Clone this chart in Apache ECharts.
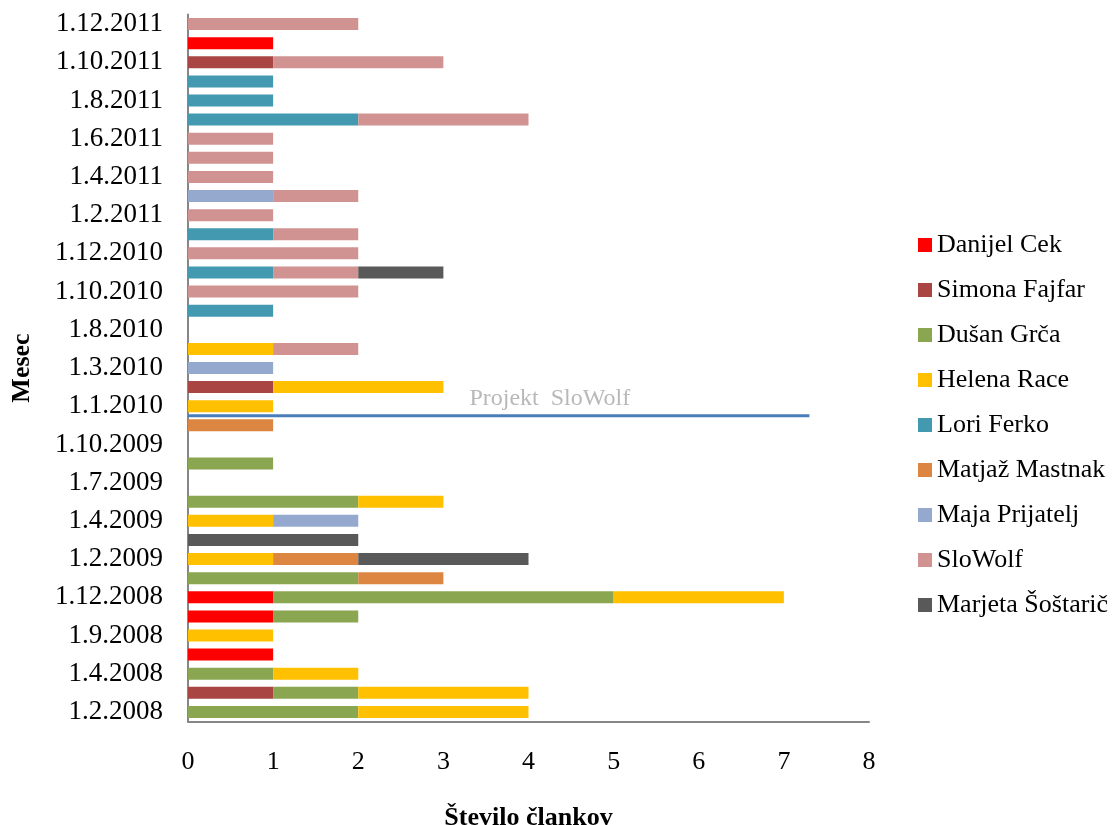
<!DOCTYPE html>
<html>
<head>
<meta charset="utf-8">
<script src="https://cdn.jsdelivr.net/npm/echarts@6/dist/echarts.min.js"></script>
<style>
html,body{margin:0;padding:0;background:#fff;}
#chart{width:1116px;height:825px;}
</style>
</head>
<body>
<div id="chart"></div>
<script>
// Categories (months), bottom to top
var categories = [
  '1.2.2008','1.3.2008','1.4.2008','1.5.2008','1.9.2008','1.11.2008','1.12.2008','1.1.2009',
  '1.2.2009','1.3.2009','1.4.2009','1.5.2009','1.7.2009','1.9.2009','1.10.2009','1.12.2009',
  '1.1.2010','1.2.2010','1.3.2010','1.4.2010','1.8.2010','1.9.2010','1.10.2010','1.11.2010',
  '1.12.2010','1.1.2011','1.2.2011','1.3.2011','1.4.2011','1.5.2011','1.6.2011','1.7.2011',
  '1.8.2011','1.9.2011','1.10.2011','1.11.2011','1.12.2011'
];
var seriesNames = ['Danijel Cek','Simona Fajfar','Dušan Grča','Helena Race','Lori Ferko','Matjaž Mastnak','Maja Prijatelj','SloWolf','Marjeta Šoštarič'];
var danijelCek      = [0,0,0,1,0,1,1,0, 0,0,0,0,0,0,0,0, 0,0,0,0,0,0,0,0, 0,0,0,0,0,0,0,0, 0,0,0,1,0];
var simonaFajfar    = [0,1,0,0,0,0,0,0, 0,0,0,0,0,0,0,0, 0,1,0,0,0,0,0,0, 0,0,0,0,0,0,0,0, 0,0,1,0,0];
var dusanGrca       = [2,1,1,0,0,1,4,2, 0,0,0,2,0,1,0,0, 0,0,0,0,0,0,0,0, 0,0,0,0,0,0,0,0, 0,0,0,0,0];
var helenaRace      = [2,2,1,0,1,0,2,0, 1,0,1,1,0,0,0,0, 1,2,0,1,0,0,0,0, 0,0,0,0,0,0,0,0, 0,0,0,0,0];
var loriFerko       = [0,0,0,0,0,0,0,0, 0,0,0,0,0,0,0,0, 0,0,0,0,0,1,0,1, 0,1,0,0,0,0,0,2, 1,1,0,0,0];
var matjazMastnak   = [0,0,0,0,0,0,0,1, 1,0,0,0,0,0,0,1, 0,0,0,0,0,0,0,0, 0,0,0,0,0,0,0,0, 0,0,0,0,0];
var majaPrijatelj   = [0,0,0,0,0,0,0,0, 0,0,1,0,0,0,0,0, 0,0,1,0,0,0,0,0, 0,0,0,1,0,0,0,0, 0,0,0,0,0];
var sloWolf         = [0,0,0,0,0,0,0,0, 0,0,0,0,0,0,0,0, 0,0,0,1,0,0,2,1, 2,1,1,1,1,1,1,2, 0,0,2,0,2];
var marjetaSostaric = [0,0,0,0,0,0,0,0, 2,2,0,0,0,0,0,0, 0,0,0,0,0,0,0,1, 0,0,0,0,0,0,0,0, 0,0,0,0,0];
var seriesValues = [danijelCek, simonaFajfar, dusanGrca, helenaRace, loriFerko, matjazMastnak, majaPrijatelj, sloWolf, marjetaSostaric];
var seriesColors = ['#FF0000','#A94643','#8BA651','#FFC000','#4399B0','#DC8641','#95A9CF','#D19392','#595959'];
var xTicks = [0, 8, 1];
// Project SloWolf marker: starts between 1.12.2009 and 1.1.2010
var projectLabel = 'Projekt  SloWolf';
var projectX = [0, 7.3];
var projectLabelX = 4.25;
var projectY = 15.5;

var FONT = '"Liberation Serif", "Times New Roman", serif';

var series = seriesNames.map(function (name, i) {
  return {
    name: name,
    type: 'bar',
    stack: 'total',
    barWidth: 12,
    itemStyle: { color: seriesColors[i] },
    data: seriesValues[i],
    yAxisIndex: 0
  };
});
series.push({
  name: 'project',
  type: 'line',
  yAxisIndex: 1,
  symbol: 'none',
  silent: true,
  lineStyle: { color: '#4A7EBB', width: 3 },
  data: projectX.map(function (x) { return [x, projectY]; })
});
series.push({
  name: 'projectLabel',
  type: 'scatter',
  yAxisIndex: 1,
  symbolSize: 1,
  silent: true,
  itemStyle: { color: 'rgba(0,0,0,0)' },
  label: { show: true, formatter: projectLabel, position: 'top', distance: 5, color: '#A6A6A6', fontFamily: FONT, fontSize: 24 },
  data: [[projectLabelX, projectY]]
});

var chart = echarts.init(document.getElementById('chart'));
chart.setOption({
  animation: false,
  backgroundColor: '#fff',
  grid: { left: 188, right: 247, top: 14.5, bottom: 103.5, containLabel: false, outerBoundsMode: 'none' },
  legend: {
    data: seriesNames,
    orient: 'vertical',
    left: 913,
    top: 227,
    itemWidth: 14,
    itemHeight: 14,
    itemGap: 19,
    icon: 'rect',
    textStyle: { fontFamily: FONT, fontSize: 26, color: '#000', lineHeight: 24 }
  },
  xAxis: {
    type: 'value',
    min: xTicks[0], max: xTicks[1], interval: xTicks[2],
    name: 'Število člankov',
    nameLocation: 'middle',
    nameGap: 84,
    nameTextStyle: { fontFamily: FONT, fontSize: 26, fontWeight: 'bold', color: '#000' },
    axisLine: { show: true, onZero: false, lineStyle: { color: '#868686', width: 2 } },
    axisTick: { show: false },
    splitLine: { show: false },
    axisLabel: { fontFamily: FONT, fontSize: 26, color: '#000', margin: 28 }
  },
  yAxis: [{
    type: 'category',
    data: categories,
    name: 'Mesec',
    nameLocation: 'middle',
    nameGap: 153,
    nameRotate: 90,
    nameTextStyle: { fontFamily: FONT, fontSize: 26, fontWeight: 'bold', color: '#000' },
    axisLine: { show: true, onZero: false, lineStyle: { color: '#868686', width: 2 } },
    axisTick: { show: false },
    axisLabel: { interval: 1, fontFamily: FONT, fontSize: 27, color: '#000', margin: 25 }
  }, {
    type: 'value',
    min: -0.5, max: 36.5,
    show: false
  }],
  series: series
});
</script>
</body>
</html>
